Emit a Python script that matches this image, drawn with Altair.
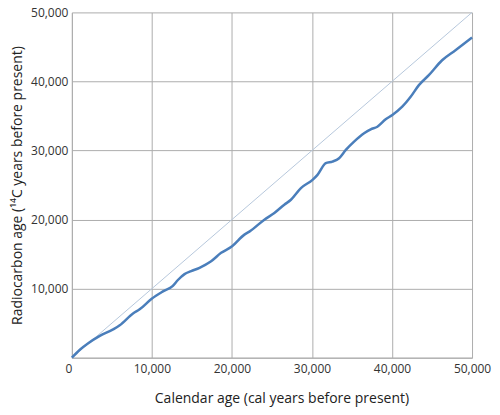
import altair as alt
import pandas as pd

cal_age = [0, 1000, 2000, 3490, 5150, 5980, 7640, 8470, 9970, 11380, 12620, 13250,
           14080, 14910, 15950, 17400, 18650, 20020, 21560, 22180, 24050, 25300, 26540,
           27370, 28620, 30070, 30690, 31730, 32560, 33390, 34230, 35260, 36510, 37340,
           38170, 39210, 40040, 41280, 42330, 43360, 44600, 46260, 47930, 50000]
c14_age = [0, 1150, 2050, 3150, 4100, 4690, 6400, 7000, 8540, 9600, 10400, 11250,
           12100, 12530, 13020, 13970, 15180, 16130, 17820, 18250, 19990, 20950, 22150,
           22870, 24560, 25760, 26480, 28170, 28400, 28890, 30090, 31290, 32500, 33070,
           33450, 34520, 35140, 36340, 37780, 39470, 40910, 43070, 44520, 46350]
ref_x = [0, 50000]
ref_y = [0, 50000]

curve = pd.DataFrame({"cal": cal_age, "c14": c14_age})
ref = pd.DataFrame({"cal": ref_x, "c14": ref_y})

FONT = "Open Sans"
ticks = [0, 10000, 20000, 30000, 40000, 50000]

x_scale = alt.Scale(domain=[0, 50000], nice=False)
y_scale = alt.Scale(domain=[0, 50000], nice=False)

x_axis = alt.Axis(values=ticks, format=",.0f", title="Calendar age (cal years before present)",
                  grid=True, gridColor="#adadad", domainColor="#adadad", ticks=False,
                  labelFont=FONT, labelFontSize=12, labelColor="#333333", labelPadding=6,
                  labelAlign=alt.expr("datum.value == 0 ? 'right' : 'center'"),
                  titleFont=FONT, titleFontSize=14, titleFontWeight="normal",
                  titleColor="#222222", titlePadding=17, titleX=210)
y_axis = alt.Axis(values=ticks, format=",.0f", title="Radiocarbon age (¹⁴C years before present)",
                  grid=True, gridColor="#adadad", domainColor="#adadad", ticks=False,
                  labelFont=FONT, labelFontSize=12, labelColor="#333333", labelPadding=4,
                  labelExpr="datum.value == 0 ? '' : datum.label",
                  titleFont=FONT, titleFontSize=14, titleFontWeight="normal",
                  titleColor="#222222", titlePadding=6)

ref_line = alt.Chart(ref).mark_line(color="#b7c8dc", strokeWidth=1).encode(
    x=alt.X("cal:Q", scale=x_scale, axis=x_axis),
    y=alt.Y("c14:Q", scale=y_scale, axis=y_axis),
)
curve_line = alt.Chart(curve).mark_line(color="#4a7ebb", strokeWidth=2.5,
                                        interpolate="monotone").encode(
    x=alt.X("cal:Q", scale=x_scale),
    y=alt.Y("c14:Q", scale=y_scale),
)

chart = (ref_line + curve_line).properties(
    width=401, height=346,
    autosize=alt.AutoSizeParams(type="none"),
    padding={"left": 64, "top": 4, "right": 20, "bottom": 50},
).configure_view(stroke=None)

chart.save("out.html", embed_options={"renderer": "svg", "actions": False})
